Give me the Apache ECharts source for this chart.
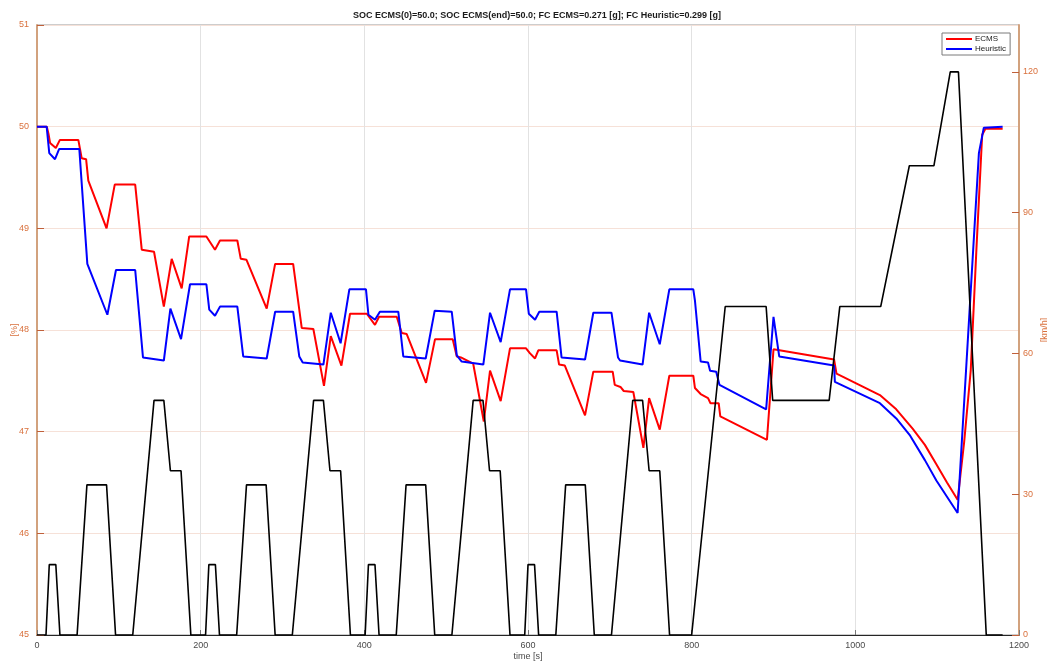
<!DOCTYPE html>
<html>
<head>
<meta charset="utf-8">
<script src="https://cdn.jsdelivr.net/npm/echarts@6/dist/echarts.min.js"></script>
<style>
  html, body { margin: 0; padding: 0; background: #fff; }
  #chart { width: 1047px; height: 661px; }
</style>
</head>
<body>
<div id="chart"></div>
<script>
// State of charge [%] under the ECMS strategy
const timeEcms = [0, 12, 14, 16, 23, 28, 50.5, 54.6, 60, 62.7, 85, 95, 120, 128, 143, 155, 164.6, 176.8, 186, 207,
  217.5, 223.6, 244.8, 249, 256, 280.7, 291, 313, 323.5, 337.7, 350.7, 359, 372, 382.5, 403,
  413, 418, 439.6, 445.7, 451.8, 475.4, 486.4, 508, 513, 518, 533, 546, 553.6, 566.6, 578, 597.6,
  602.5, 608.6, 612.6, 635, 638, 645, 669.7, 679.8, 703.5, 706, 713, 717, 728.7, 741, 748, 761, 772.7, 802,
  804, 811, 820, 823, 833, 835, 892, 900, 974, 977, 1030, 1050, 1070, 1085, 1099, 1112, 1125,
  1133, 1141, 1148, 1155, 1159, 1180];
const socEcms = [50.0, 50.0, 49.93, 49.84, 49.79, 49.87, 49.87, 49.69, 49.68, 49.47, 49.0, 49.43, 49.43, 48.79, 48.77, 48.23, 48.70, 48.41, 48.92, 48.92,
  48.79, 48.88, 48.88, 48.70, 48.69, 48.21, 48.65, 48.65, 48.02, 48.01, 47.45, 47.94, 47.65, 48.16, 48.16,
  48.05, 48.13, 48.13, 47.97, 47.96, 47.48, 47.91, 47.91, 47.74, 47.73, 47.67, 47.10, 47.60, 47.30, 47.82, 47.82,
  47.77, 47.72, 47.80, 47.80, 47.66, 47.65, 47.16, 47.59, 47.59, 47.46, 47.44, 47.40, 47.39, 46.84, 47.33, 47.02, 47.55, 47.55,
  47.43, 47.37, 47.33, 47.28, 47.28, 47.15, 46.92, 47.81, 47.71, 47.57, 47.36, 47.22, 47.03, 46.87, 46.68, 46.50, 46.33,
  46.90, 47.60, 48.80, 49.92, 49.98, 49.98];

// State of charge [%] under the heuristic strategy
const timeHeur = [0, 11.8, 15, 22, 27, 51.7, 61.5, 86, 96.5, 120, 129.5, 155, 163, 176, 187, 207,
  210.5, 217.5, 223.6, 244.8, 252, 280.7, 291, 313, 320.5, 324.7, 350, 359, 371, 381.7, 402,
  405, 413, 419, 441.5, 447.6, 475, 486, 506.8, 513, 519, 545.4, 553.6, 566.6, 578, 597.6,
  601, 608.6, 613.8, 635, 641, 669.7, 679.8, 702, 710, 712.5, 740, 748, 761, 772.7, 802,
  804, 811, 820, 822.5, 830, 834, 891, 900, 907, 974, 975, 1030, 1050, 1067, 1085, 1099, 1112, 1125,
  1139, 1151, 1157, 1180];
const socHeur = [50.0, 50.0, 49.74, 49.68, 49.78, 49.78, 48.65, 48.15, 48.59, 48.59, 47.73, 47.70, 48.21, 47.91, 48.45, 48.45,
  48.20, 48.14, 48.23, 48.23, 47.74, 47.72, 48.18, 48.18, 47.74, 47.68, 47.66, 48.17, 47.87, 48.40, 48.40,
  48.15, 48.10, 48.18, 48.18, 47.74, 47.72, 48.19, 48.18, 47.75, 47.69, 47.66, 48.17, 47.88, 48.40, 48.40,
  48.16, 48.10, 48.18, 48.18, 47.73, 47.71, 48.17, 48.17, 47.73, 47.70, 47.66, 48.17, 47.86, 48.40, 48.40,
  48.29, 47.69, 47.68, 47.60, 47.59, 47.46, 47.22, 48.13, 47.74, 47.65, 47.49, 47.28, 47.13, 46.96, 46.72, 46.52, 46.36, 46.20,
  48.11, 49.74, 49.99, 50.0];

// Vehicle speed [km/h] over the driving cycle
const timeSpeed = [0, 11, 15, 23, 28, 49, 61, 85, 96, 117, 143, 155, 163, 176, 188,
  206, 210, 218, 223, 244, 256, 280, 291, 312, 338, 350, 358, 371, 383,
  401, 405, 413, 418, 439, 451, 475, 486, 507, 533, 545, 553, 566, 578,
  596, 600, 608, 613, 634, 646, 670, 681, 702, 728, 740, 748, 761, 773,
  800, 841, 891, 899, 968, 981, 1031, 1066, 1096, 1116, 1126, 1160, 1180];
const speed = [0, 0, 15, 15, 0, 0, 32, 32, 0, 0, 50, 50, 35, 35, 0,
  0, 15, 15, 0, 0, 32, 32, 0, 0, 50, 50, 35, 35, 0,
  0, 15, 15, 0, 0, 32, 32, 0, 0, 50, 50, 35, 35, 0,
  0, 15, 15, 0, 0, 32, 32, 0, 0, 50, 50, 35, 35, 0,
  0, 70, 70, 50, 50, 70, 70, 100, 100, 120, 120, 0, 0];

// Axis ticks
const timeTicks = { min: 0, max: 1200, step: 200 };
const socTicks = { min: 45, max: 51, step: 1 };
const speedTicks = { min: 0, max: 130, step: 30 };

const pairs = (xs, ys) => xs.map((x, i) => [x, ys[i]]);

const FONT = 'Liberation Sans';
const ORANGE = '#D9703C';
const ORANGE_LINE = '#D2A27E';
const DARK = '#4A4A4A';

const chart = echarts.init(document.getElementById('chart'), null, { renderer: 'canvas' });

chart.setOption({
  animation: false,
  backgroundColor: '#fff',
  title: {
    text: 'SOC ECMS(0)=50.0; SOC ECMS(end)=50.0; FC ECMS=0.271 [g]; FC Heuristic=0.299 [g]',
    left: 532,
    textAlign: 'center',
    top: 6,
    textStyle: { fontFamily: FONT, fontSize: 9, fontWeight: 'bold', color: '#1a1a1a' }
  },
  legend: {
    data: ['ECMS', 'Heuristic'],
    orient: 'vertical',
    left: 942,
    top: 33,
    icon: 'rect',
    itemWidth: 26,
    itemHeight: 2,
    itemGap: 2,
    padding: [2, 4, 2, 4],
    backgroundColor: '#fff',
    borderColor: '#7a7a7a',
    borderWidth: 1,
    borderRadius: 0,
    textStyle: { fontFamily: FONT, fontSize: 8, color: '#222', padding: [0, 0, 0, -2] }
  },
  grid: {
    left: 37, right: 28, top: 25, bottom: 26,
    containLabel: false,
    outerBoundsMode: 'none',
    show: true, borderColor: '#9a9a9a', borderWidth: 1, backgroundColor: '#fff'
  },
  xAxis: [
    {
      type: 'value', min: timeTicks.min, max: timeTicks.max, interval: timeTicks.step,
      position: 'bottom',
      name: 'time [s]', nameLocation: 'middle', nameGap: 17, nameMoveOverlap: false,
      nameTextStyle: { fontFamily: FONT, fontSize: 9, color: DARK },
      axisLine: { show: true, lineStyle: { color: '#262626', width: 1 } },
      axisTick: { show: true, inside: true, length: 5, lineStyle: { color: '#777' } },
      axisLabel: { fontFamily: FONT, fontSize: 9, color: DARK, margin: 6, formatter: v => String(v) },
      splitLine: { show: true, lineStyle: { color: '#E2E2E2', width: 1 } }
    }
  ],
  yAxis: [
    {
      type: 'value', min: socTicks.min, max: socTicks.max, interval: socTicks.step,
      position: 'left',
      name: '[%]', nameLocation: 'middle', nameGap: 18, nameMoveOverlap: false,
      nameTextStyle: { fontFamily: FONT, fontSize: 9, color: ORANGE },
      axisLine: { show: true, lineStyle: { color: ORANGE_LINE, width: 2 } },
      axisTick: { show: true, inside: true, length: 7, lineStyle: { color: '#C0603A' } },
      axisLabel: { fontFamily: FONT, fontSize: 9, color: ORANGE, margin: 8 },
      splitLine: { show: true, lineStyle: { color: '#F6E1D8', width: 1 } }
    },
    {
      type: 'value', min: speedTicks.min, max: speedTicks.max, interval: speedTicks.step,
      position: 'right',
      name: '[km/h]', nameLocation: 'middle', nameGap: 21, nameMoveOverlap: false,
      nameTextStyle: { fontFamily: FONT, fontSize: 9, color: ORANGE },
      axisLine: { show: true, lineStyle: { color: ORANGE_LINE, width: 2 } },
      axisTick: { show: true, inside: true, length: 7, lineStyle: { color: '#C0603A' } },
      axisLabel: { fontFamily: FONT, fontSize: 9, color: ORANGE, margin: 4, showMaxLabel: false },
      splitLine: { show: false }
    }
  ],
  series: [
    {
      name: 'ECMS', type: 'line', yAxisIndex: 0, data: pairs(timeEcms, socEcms),
      symbol: 'none', color: '#FF0000', lineStyle: { width: 2, color: '#FF0000' }, z: 3
    },
    {
      name: 'Heuristic', type: 'line', yAxisIndex: 0, data: pairs(timeHeur, socHeur),
      symbol: 'none', color: '#0000FF', lineStyle: { width: 2, color: '#0000FF' }, z: 4
    },
    {
      name: 'Speed', type: 'line', yAxisIndex: 1, data: pairs(timeSpeed, speed),
      symbol: 'none', color: '#000', lineStyle: { width: 1.6, color: '#000' }, z: 5
    }
  ]
});
</script>
</body>
</html>
